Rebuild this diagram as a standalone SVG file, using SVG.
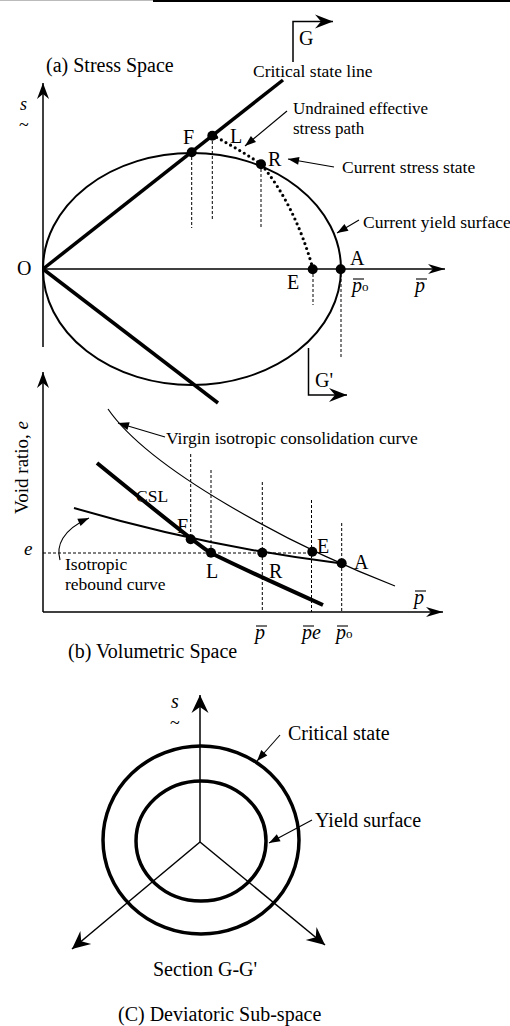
<svg xmlns="http://www.w3.org/2000/svg" width="510" height="1026" viewBox="0 0 510 1026">
<style>
text{font-family:"Liberation Serif","Times New Roman",serif;fill:#000}
.lb{font-size:17.5px}
.pt{font-size:20px}
.ttl{font-size:20px}
.it{font-style:italic}
.ax{fill:none;stroke:#000;stroke-width:1.5}
.thin{fill:none;stroke:#000;stroke-width:1.2}
.thick{fill:none;stroke:#000;stroke-width:3.5}
.dash{fill:none;stroke:#000;stroke-width:1;stroke-dasharray:3 2}
.ann{fill:none;stroke:#000;stroke-width:1.1}
.bar{stroke:#000;stroke-width:1.1}
.dot{fill:#000}
</style>
<defs>
<marker id="ah" markerUnits="userSpaceOnUse" viewBox="-12 -5 13 10" markerWidth="13" markerHeight="10" refX="0" refY="0" orient="auto"><path d="M0,0 L-11,-4 L-11,4 Z"/></marker>
<marker id="axa" markerUnits="userSpaceOnUse" viewBox="-17 -7 18 14" markerWidth="18" markerHeight="14" refX="0" refY="0" orient="auto"><path d="M0,0 L-16,-6 L-11,0 L-16,6 Z"/></marker>
<marker id="axp" markerUnits="userSpaceOnUse" viewBox="-18 -6 19 12" markerWidth="19" markerHeight="12" refX="0" refY="0" orient="auto"><path d="M0,0 L-17,-5 L-12,0 L-17,5 Z"/></marker>
<marker id="ga" markerUnits="userSpaceOnUse" viewBox="-19 -8 20 16" markerWidth="20" markerHeight="16" refX="0" refY="0" orient="auto"><path d="M0,0 L-18,-7 L-12,0 L-18,7 Z"/></marker>
<marker id="ca" markerUnits="userSpaceOnUse" viewBox="-19 -9 20 18" markerWidth="20" markerHeight="18" refX="0" refY="0" orient="auto"><path d="M0,0 L-18,-8.5 L-12,0 L-18,8.5 Z"/></marker>
</defs>

<g id="page-edge">
<line x1="0" y1="0.5" x2="153" y2="0.5" stroke="#bbb" stroke-width="1"/>
<line x1="153" y1="1" x2="510" y2="1" stroke="#000" stroke-width="2"/>
</g>

<!-- (a) Stress space -->
<g id="panel-a">
<text class="ttl" x="46" y="72">(a) Stress Space</text>
<g id="a-axes">
<line class="ax" x1="43" y1="347" x2="43" y2="83" marker-end="url(#axa)"/>
<line class="ax" x1="43" y1="269" x2="445" y2="269" marker-end="url(#axp)"/>
<text class="it" x="20" y="110" font-size="18">s</text>
<text x="19" y="131" font-size="18">~</text>
<text class="pt" x="17" y="275">O</text>
<g id="a-pbar-axis"><text class="pt it" x="415" y="292">p</text><line class="bar" x1="416" y1="279" x2="427" y2="279"/></g>
</g>
<g id="yield-surface-a"><ellipse cx="192" cy="269" rx="149" ry="116" fill="none" stroke="#000" stroke-width="2"/></g>
<g id="csl-a">
<line class="thick" x1="43" y1="269" x2="283" y2="80"/>
<line class="thick" x1="43" y1="269" x2="218" y2="403"/>
</g>
<g id="a-connectors">
<path d="M212,135 Q237,148 261,164 Q295,205 313,269" fill="none" stroke="#000" stroke-width="3.2" stroke-linecap="round" stroke-dasharray="0 5.3"/>
<line class="dash" x1="191.7" y1="152" x2="191.7" y2="228"/>
<line class="dash" x1="212.3" y1="136" x2="212.3" y2="220"/>
<line class="dash" x1="261" y1="164" x2="261" y2="227"/>
<line class="dash" x1="313" y1="269" x2="313" y2="305"/>
<line class="dash" x1="341" y1="269" x2="341" y2="357"/>
<line class="ann" x1="287" y1="111" x2="245" y2="146" marker-end="url(#ah)"/>
<line class="ann" x1="334" y1="167" x2="288" y2="159" marker-end="url(#ah)"/>
<line class="ann" x1="359" y1="220" x2="337" y2="233" marker-end="url(#ah)"/>
</g>
<g id="a-F"><circle class="dot" cx="191.7" cy="152.3" r="5"/><text class="pt" x="183" y="144">F</text></g>
<g id="a-L"><circle class="dot" cx="212.3" cy="135.7" r="5"/><text class="pt" x="230" y="143">L</text></g>
<g id="a-R"><circle class="dot" cx="261" cy="164.3" r="5"/><text class="pt" x="268" y="166">R</text></g>
<g id="a-E"><circle class="dot" cx="312.7" cy="269.3" r="5"/><text class="pt" x="287" y="289">E</text></g>
<g id="a-A"><circle class="dot" cx="340.7" cy="269.3" r="5"/><text class="pt" x="350" y="265">A</text>
<text class="pt it" x="352" y="292">p<tspan font-style="normal" font-size="13" dy="-1">o</tspan></text><line class="bar" x1="353" y1="279" x2="364" y2="279"/></g>
<g id="a-labels">
<text class="lb" x="253" y="77">Critical state line</text>
<text x="293" y="114" font-size="17">Undrained effective</text>
<text x="293" y="134" font-size="17">stress path</text>
<text class="lb" x="342" y="173">Current stress state</text>
<text class="lb" x="363" y="228">Current yield surface</text>
</g>
<g id="section-G">
<polyline class="ax" points="293,62 293,21.5 333,21.5" marker-end="url(#ga)"/>
<text class="pt" x="299" y="45">G</text>
</g>
<g id="section-G-prime">
<polyline class="ax" points="308.5,348 308.5,395 347,395" marker-end="url(#ga)"/>
<text class="pt" x="315" y="387">G'</text>
</g>
</g>

<!-- (b) Volumetric space -->
<g id="panel-b">
<g id="b-axes">
<line class="ax" x1="43" y1="612" x2="43" y2="372" marker-end="url(#axa)"/>
<line class="ax" x1="43" y1="612" x2="443" y2="612" marker-end="url(#axp)"/>
<text transform="translate(28,514) rotate(-90)" font-size="19">Void ratio, <tspan font-style="italic">e</tspan></text>
<text class="it" x="24" y="555" font-size="19">e</text>
<g id="b-pbar-axis"><text class="pt it" x="414" y="604">p</text><line class="bar" x1="415" y1="591" x2="426" y2="591"/></g>
</g>
<g id="b-connectors">
<line class="dash" x1="43" y1="553" x2="312" y2="553"/>
<line class="dash" x1="190.7" y1="454" x2="190.7" y2="539"/>
<line class="dash" x1="211" y1="470" x2="211" y2="553"/>
<line class="dash" x1="262.3" y1="482" x2="262.3" y2="612"/>
<line class="dash" x1="311.5" y1="500" x2="311.5" y2="612"/>
<line class="dash" x1="341.7" y1="523" x2="341.7" y2="612"/>
<path class="thin" d="M108,409 C150,470 290,545 395,586"/>
<path fill="none" stroke="#000" stroke-width="2" d="M74,508 Q207,547 341.7,563.5"/>
<path fill="none" stroke="#000" stroke-width="4" d="M97,463 Q200,547 211,553 Q243,569 323,605"/>
<line class="ann" x1="165" y1="437" x2="118" y2="423" marker-end="url(#ah)"/>
<path class="ann" d="M60,560 C56,546 62,530 89,518" marker-end="url(#ah)"/>
</g>
<g id="b-F"><circle class="dot" cx="190.7" cy="539.3" r="5"/><text class="pt" x="177" y="533">F</text></g>
<g id="b-L"><circle class="dot" cx="211" cy="552.7" r="5"/><text class="pt" x="206" y="578">L</text></g>
<g id="b-R"><circle class="dot" cx="262.3" cy="552.7" r="5"/><text class="pt" x="269" y="578">R</text></g>
<g id="b-E"><circle class="dot" cx="312.3" cy="551.7" r="5"/><text class="pt" x="317" y="553">E</text></g>
<g id="b-A"><circle class="dot" cx="341.7" cy="563.3" r="5"/><text class="pt" x="354" y="569">A</text></g>
<g id="b-labels">
<text class="lb" x="166" y="444">Virgin isotropic consolidation curve</text>
<text class="lb" x="136" y="502">CSL</text>
<text class="lb" x="65" y="570">Isotropic</text>
<text class="lb" x="65" y="590">rebound curve</text>
<g id="b-p"><text class="pt it" x="255" y="639">p</text><line class="bar" x1="256" y1="626" x2="267" y2="626"/></g>
<g id="b-pe"><text class="pt it" x="302" y="639">pe</text><line class="bar" x1="303" y1="626" x2="314" y2="626"/></g>
<g id="b-po"><text class="pt it" x="336" y="639">p<tspan font-style="normal" font-size="13" dy="-1">o</tspan></text><line class="bar" x1="337" y1="626" x2="348" y2="626"/></g>
<text class="ttl" x="68" y="658">(b) Volumetric Space</text>
</g>
</g>

<!-- (c) Deviatoric sub-space -->
<g id="panel-c">
<g id="critical-state-c"><ellipse cx="201" cy="840" rx="98" ry="94" fill="none" stroke="#000" stroke-width="3.5"/></g>
<g id="yield-surface-c"><ellipse cx="201" cy="841" rx="65" ry="60" fill="none" stroke="#000" stroke-width="3.5"/></g>
<g id="c-connectors">
<line class="ax" x1="200" y1="842" x2="200" y2="695" marker-end="url(#ca)"/>
<line class="ax" x1="200" y1="842" x2="72" y2="949" marker-end="url(#ca)"/>
<line class="ax" x1="200" y1="842" x2="325" y2="945" marker-end="url(#ca)"/>
<line class="ann" x1="280" y1="735" x2="257" y2="761" marker-end="url(#ah)"/>
<line class="ann" x1="312" y1="820" x2="269" y2="843" marker-end="url(#ah)"/>
</g>
<text class="it" x="171" y="708" font-size="20">s</text>
<text x="170" y="729" font-size="18">~</text>
<text class="ttl" x="288" y="740">Critical state</text>
<text class="ttl" x="315" y="827">Yield surface</text>
<text class="ttl" x="153" y="976">Section G-G'</text>
<text class="ttl" x="118" y="1021">(C) Deviatoric Sub-space</text>
</g>
</svg>
